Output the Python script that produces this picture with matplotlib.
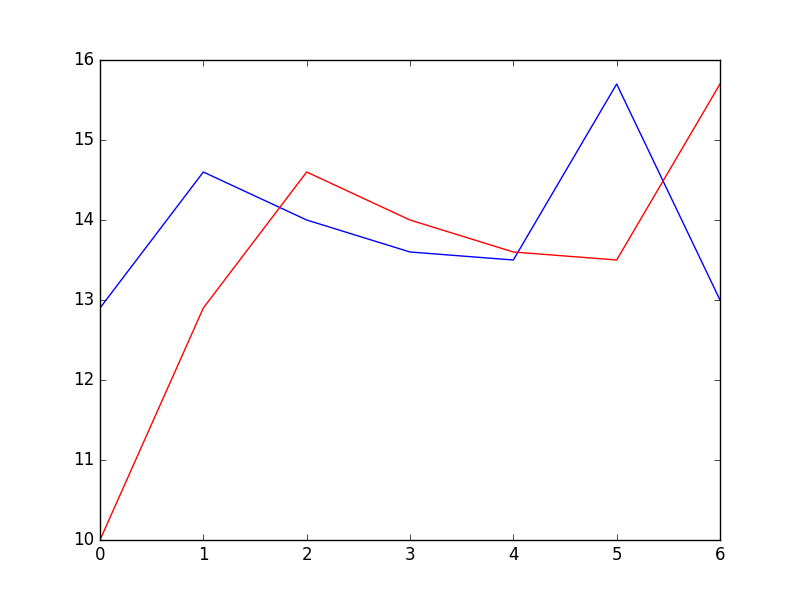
import matplotlib
matplotlib.use('Agg')
import matplotlib.pyplot as plt

# Datos
x = [0, 1, 2, 3, 4, 5, 6]
serie_azul = [12.9, 14.6, 14.0, 13.6, 13.5, 15.7, 13.0]
serie_roja = [10.0, 12.9, 14.6, 14.0, 13.6, 13.5, 15.7]

plt.style.use('classic')

fig = plt.figure(figsize=(8, 6), dpi=100, facecolor='white')
ax = fig.add_subplot(111)

ax.plot(x, serie_azul, color='blue')
ax.plot(x, serie_roja, color='red')

ax.set_xlim(0, 6)
ax.set_ylim(10, 16)

fig.savefig('out.png', dpi=100, facecolor='white')
